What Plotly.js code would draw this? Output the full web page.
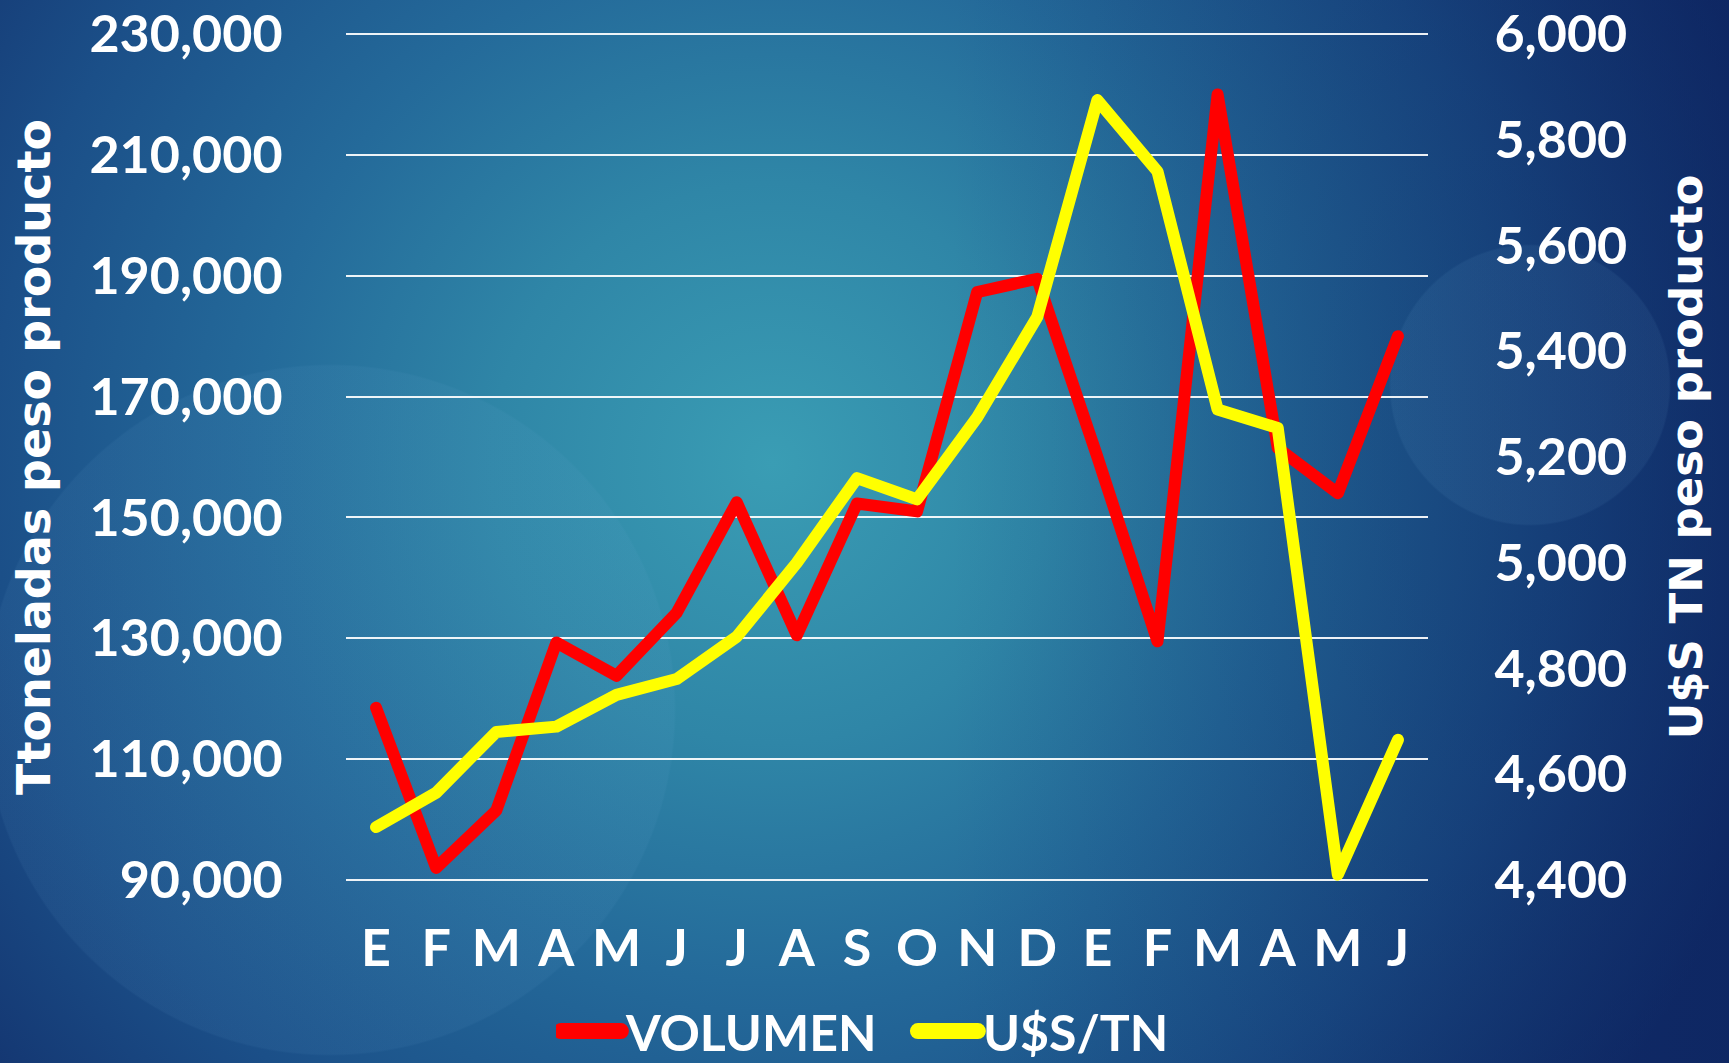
<!DOCTYPE html>
<html>
<head>
<meta charset="utf-8">
<script src="https://cdn.plot.ly/plotly-3.0.1.min.js"></script>
<style>
  html, body { margin: 0; padding: 0; }
  body {
    width: 1729px; height: 1063px; overflow: hidden;
    background:
      radial-gradient(circle 140px at 1530px 385px, rgba(110,170,215,0.09) 0, rgba(110,170,215,0.09) 139px, rgba(110,170,215,0) 141px),
      radial-gradient(circle 345px at 330px 710px, rgba(110,170,215,0.08) 0, rgba(110,170,215,0.08) 344px, rgba(110,170,215,0) 346px),
      linear-gradient(90deg, rgba(10,30,90,0) 0%, rgba(10,30,90,0) 55%, rgba(10,30,90,0.45) 100%),
      radial-gradient(circle at 772px 463px, #3a9db4 0px, #2f86a7 280px, #246a9a 520px, #1b4f88 780px, #122f6b 1050px);
  }
  #chart { width: 1729px; height: 1063px; }
  .scatterlayer path.js-line { stroke-linejoin: round; stroke-linecap: round; }
  .legend .legendlines path { stroke-width: 16px !important; stroke-linecap: round; }
</style>
</head>
<body>
<div id="chart"></div>
<script>
// Month labels (two consecutive years, E = enero ... J = junio)
const months = ["E","F","M","A","M","J","J","A","S","O","N","D","E","F","M","A","M","J"];
// Volume (toneladas peso producto) - left axis
const volumen = [118500, 92000, 101500, 129300, 123800, 134200, 152500, 130500, 152300, 151000, 187300, 189500, 160000, 129500, 220000, 161500, 154000, 180000];
// Price (U$S / TN peso producto) - right axis
const precio = [4500, 4565, 4680, 4690, 4750, 4780, 4860, 5000, 5160, 5120, 5275, 5465, 5875, 5740, 5290, 5255, 4410, 4665];
const seriesNames = ["VOLUMEN", "U$S/TN"];
const leftTicks = [90000, 110000, 130000, 150000, 170000, 190000, 210000, 230000];
const rightTicks = [4400, 4600, 4800, 5000, 5200, 5400, 5600, 5800, 6000];
const xIdx = months.map((_, i) => i);

const FONT = "Lato, 'Liberation Sans', Arial, sans-serif";
const TITLE_FONT = "'DejaVu Sans', Verdana, sans-serif";

const traces = [
  {
    x: xIdx, y: volumen, name: seriesNames[0], type: "scatter", mode: "lines",
    line: { color: "#ff0000", width: 12 }, yaxis: "y"
  },
  {
    x: xIdx, y: precio, name: seriesNames[1], type: "scatter", mode: "lines",
    line: { color: "#ffff00", width: 12 }, yaxis: "y2"
  }
];

const layout = {
  width: 1729, height: 1063,
  paper_bgcolor: "rgba(0,0,0,0)",
  plot_bgcolor: "rgba(0,0,0,0)",
  margin: { l: 346, r: 301, t: 28, b: 177, autoexpand: false },
  font: { family: FONT, color: "#ffffff", weight: 700 },
  showlegend: true,
  legend: {
    orientation: "h", x: 0.194, xanchor: "left",
    yref: "container", y: 0.030, yanchor: "middle",
    font: { family: FONT, size: 50, color: "#ffffff", weight: 700 },
    bgcolor: "rgba(0,0,0,0)", itemwidth: 60, entrywidth: 282, entrywidthmode: "pixels"
  },
  xaxis: {
    range: [-0.5, 17.5],
    tickmode: "array", tickvals: xIdx, ticktext: months,
    showgrid: false, zeroline: false, showline: false,
    ticks: "outside", ticklen: 17, tickcolor: "rgba(0,0,0,0)",
    tickfont: { family: FONT, size: 52, color: "#ffffff", weight: 700 }
  },
  yaxis: {
    range: [89000, 231000], tickmode: "array", tickvals: leftTicks,
    tickformat: ",d",
    showgrid: true, gridcolor: "rgba(255,255,255,0.92)", gridwidth: 2,
    zeroline: false, showline: false,
    ticks: "outside", ticklen: 52, tickcolor: "rgba(0,0,0,0)",
    tickfont: { family: FONT, size: 52, color: "#ffffff", weight: 700 },
    title: { text: "Ttoneladas peso producto", standoff: 24,
             font: { family: TITLE_FONT, size: 46, color: "#ffffff", weight: 700 } }
  },
  yaxis2: {
    range: [4388.57, 6011.43], tickmode: "array", tickvals: rightTicks,
    tickformat: ",d",
    overlaying: "y", side: "right",
    showgrid: false, zeroline: false, showline: false,
    ticks: "outside", ticklen: 55, tickcolor: "rgba(0,0,0,0)",
    tickfont: { family: FONT, size: 52, color: "#ffffff", weight: 700 },
    title: { text: "U$S TN peso producto", standoff: 44,
             font: { family: TITLE_FONT, size: 45, color: "#ffffff", weight: 700 } }
  }
};

Plotly.newPlot("chart", traces, layout, { displayModeBar: false, staticPlot: true });
</script>
</body>
</html>
